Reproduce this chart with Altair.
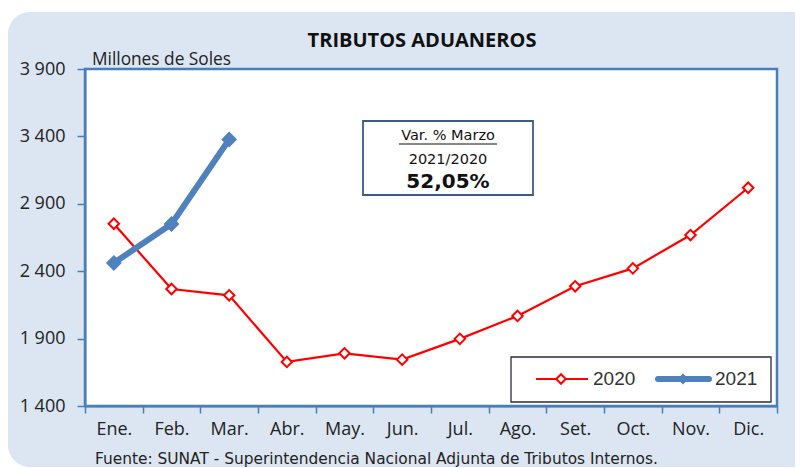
import altair as alt
import pandas as pd

# ---- data ----
months = ["Ene.", "Feb.", "Mar.", "Abr.", "May.", "Jun.", "Jul.", "Ago.", "Set.", "Oct.", "Nov.", "Dic."]
v2020 = [2752, 2268, 2221, 1727, 1791, 1744, 1898, 2068, 2288, 2421, 2668, 3019]
v2021 = [2461, 2750, 3377]
y_ticks = [1400, 1900, 2400, 2900, 3400, 3900]
legend_labels = ["2020", "2021"]
title_text = "TRIBUTOS ADUANEROS"
unit_text = "Millones de Soles"
source_text = "Fuente: SUNAT - Superintendencia  Nacional Adjunta de Tributos  Internos."
box_lines = ["Var. % Marzo", "2021/2020", "52,05%"]

W, H = 692, 337
RED = "#ff0000"
BLUE = "#4f81bd"
BORDER = "#4a7ebb"
PANEL = "#dce6f2"
SANS = "Open Sans"

df20 = pd.DataFrame({"mes": months, "valor": v2020})
df21 = pd.DataFrame({"mes": months[:len(v2021)], "valor": v2021})
one = pd.DataFrame({"k": [0]})

xenc = alt.X("mes:N", sort=months, bandPosition=0.5,
             scale=alt.Scale(type="band", domain=months, paddingInner=0, paddingOuter=0),
             axis=alt.Axis(title=None, labelAngle=0, tickBand="extent", tickSize=7,
                           tickColor=BORDER, tickWidth=1.5, domainColor=BORDER, domainWidth=2,
                           labelFont=SANS, labelFontSize=18, labelColor="#222222",
                           labelPadding=7, zindex=1))
yenc = alt.Y("valor:Q",
             scale=alt.Scale(domain=[1400, 3900], nice=False, zero=False),
             axis=alt.Axis(title=None, values=y_ticks, grid=False, tickSize=8,
                           tickColor=BORDER, tickWidth=1.5, domainColor=BORDER, domainWidth=2,
                           labelFont=SANS, labelFontSize=18, labelColor="#222222",
                           labelPadding=12, zindex=1,
                           labelExpr="replace(format(datum.value, ','), ',', ' ')"))

# background panel and plot area
panel = alt.Chart(one).mark_rect(fill=PANEL, cornerRadius=22).encode(
    x=alt.value(-77), x2=alt.value(W + 60), y=alt.value(-57), y2=alt.value(398))
plot_bg = alt.Chart(one).mark_rect(fill="white").encode(
    x=alt.value(0), x2=alt.value(W), y=alt.value(0), y2=alt.value(H))
plot_border = alt.Chart(one).mark_rect(fill=None, stroke=BORDER, strokeWidth=2.5).encode(
    x=alt.value(0), x2=alt.value(W), y=alt.value(0), y2=alt.value(H))

# data layers
line20 = alt.Chart(df20).mark_line(color=RED, strokeWidth=2.2).encode(x=xenc, y=yenc)
pts20 = alt.Chart(df20).mark_point(shape="diamond", fill="white", fillOpacity=1, stroke=RED,
                                   strokeWidth=2, size=110, opacity=1).encode(x=xenc, y=yenc)
line21 = alt.Chart(df21).mark_line(color=BLUE, strokeWidth=6, strokeCap="round").encode(x=xenc, y=yenc)
pts21 = alt.Chart(df21).mark_point(shape="diamond", filled=True, color=BLUE, size=250,
                                   opacity=1).encode(x=xenc, y=yenc)

# texts
title = alt.Chart(one).mark_text(text=title_text, font=SANS, fontSize=20, fontWeight="bold",
                                 color="#111111", align="center", baseline="alphabetic").encode(
    x=alt.value(337), y=alt.value(-22))
unit = alt.Chart(one).mark_text(text=unit_text, font=SANS, fontSize=17.3, color="#222222",
                                align="left", baseline="alphabetic").encode(
    x=alt.value(7), y=alt.value(-4))
source = alt.Chart(one).mark_text(text=source_text, font="DejaVu Sans", fontSize=15.4,
                                  color="#222222", align="left", baseline="alphabetic").encode(
    x=alt.value(10), y=alt.value(395))

# annotation box
BOXF = "DejaVu Sans"
box = alt.Chart(one).mark_rect(fill="white", stroke="#3c5a8c", strokeWidth=1.8).encode(
    x=alt.value(278), x2=alt.value(448), y=alt.value(52), y2=alt.value(126))
box_t1 = alt.Chart(one).mark_text(text=box_lines[0], font=BOXF, fontSize=14.5,
                                  color="#111111", align="center", baseline="middle").encode(
    x=alt.value(363), y=alt.value(67))
box_ul = alt.Chart(one).mark_rule(color="#111111", strokeWidth=1).encode(
    x=alt.value(314), x2=alt.value(412), y=alt.value(75))
box_t2 = alt.Chart(one).mark_text(text=box_lines[1], font=BOXF, fontSize=14.5,
                                  color="#111111", align="center", baseline="middle").encode(
    x=alt.value(363), y=alt.value(91))
box_t3 = alt.Chart(one).mark_text(text=box_lines[2], font=BOXF, fontSize=20,
                                  fontWeight="bold", color="#111111", align="center",
                                  baseline="middle").encode(
    x=alt.value(363), y=alt.value(113))

# legend
LEGF = "Liberation Sans"
leg_box = alt.Chart(one).mark_rect(fill="white", stroke="#2b2b40", strokeWidth=1.3).encode(
    x=alt.value(426), x2=alt.value(686), y=alt.value(288), y2=alt.value(333))
leg_l1 = alt.Chart(one).mark_rule(color=RED, strokeWidth=2).encode(
    x=alt.value(451), x2=alt.value(503), y=alt.value(310))
leg_p1 = alt.Chart(one).mark_point(shape="diamond", fill="white", fillOpacity=1, stroke=RED,
                                   strokeWidth=2, size=90, opacity=1).encode(
    x=alt.value(476), y=alt.value(310))
leg_t1 = alt.Chart(one).mark_text(text=legend_labels[0], font=LEGF, fontSize=19,
                                  color="#333333", align="left", baseline="middle").encode(
    x=alt.value(508), y=alt.value(310))
leg_l2 = alt.Chart(one).mark_rule(color=BLUE, strokeWidth=6, strokeCap="round").encode(
    x=alt.value(573), x2=alt.value(624), y=alt.value(310))
leg_p2 = alt.Chart(one).mark_point(shape="diamond", filled=True, color=BLUE, size=120,
                                   opacity=1).encode(
    x=alt.value(598), y=alt.value(310))
leg_t2 = alt.Chart(one).mark_text(text=legend_labels[1], font=LEGF, fontSize=19,
                                  color="#333333", align="left", baseline="middle").encode(
    x=alt.value(630), y=alt.value(310))

chart = alt.layer(
    panel, plot_bg, title, unit, source,
    line20, pts20, line21, pts21,
    box, box_t1, box_ul, box_t2, box_t3,
    leg_box, leg_l1, leg_p1, leg_t1, leg_l2, leg_p2, leg_t2,
    plot_border,
).properties(
    width=W, height=H,
    autosize=alt.AutoSizeParams(type="none"),
    padding={"left": 77, "top": 61, "right": 18, "bottom": 64},
    background="white",
).configure_view(stroke=None)

chart.save("out.html", embed_options={"renderer": "svg", "actions": False})
